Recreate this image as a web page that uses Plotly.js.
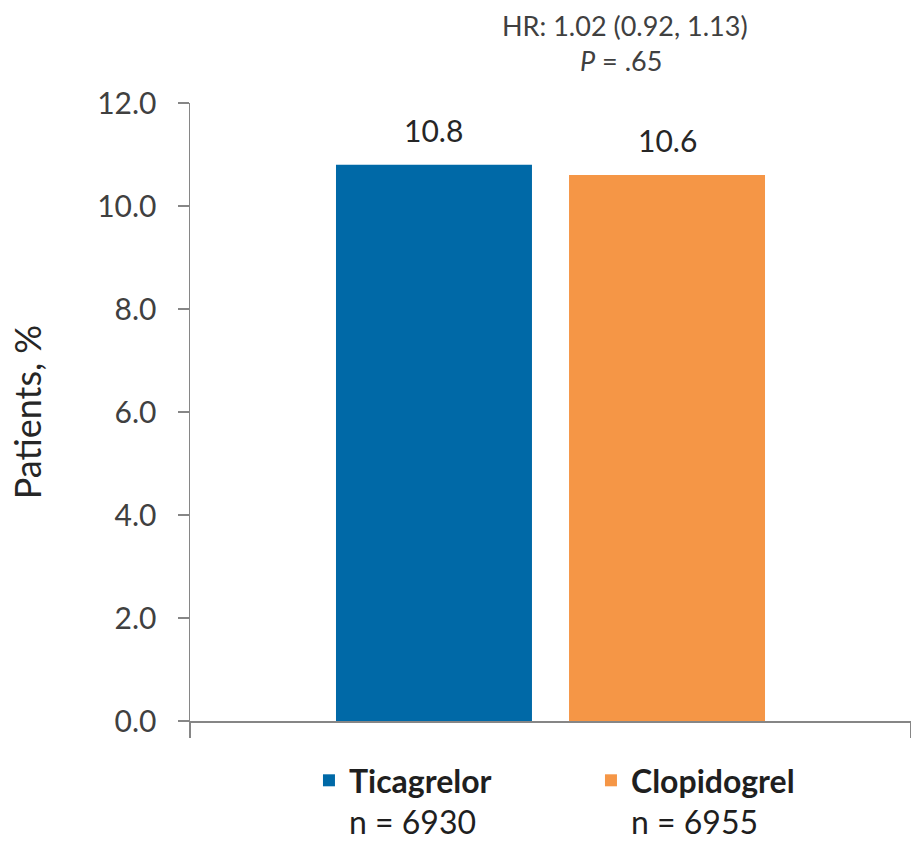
<!DOCTYPE html>
<html>
<head>
<meta charset="utf-8">
<script src="https://cdn.plot.ly/plotly-3.0.1.min.js"></script>
<style>html,body{margin:0;padding:0;background:#fff;}#chart{width:911px;height:842px;}</style>
</head>
<body>
<div id="chart"></div>
<script>
// ---- data ----
var categories = ["Ticagrelor", "Clopidogrel"];
var seriesNames = ["<b>Ticagrelor</b><br>n = 6930", "<b>Clopidogrel</b><br>n = 6955"];
var patientsPct = [10.8, 10.6];
var barColors = ["#0069A7", "#F59646"];
var yTickVals = [0, 2, 4, 6, 8, 10, 12];
var hrText = "HR: 1.02 (0.92, 1.13)";
var pText = "<i>P</i> = .65";
var yTitle = "Patients, %";

var FONT = "Lato, 'Open Sans', 'DejaVu Sans', sans-serif";
var AXIS_COLOR = "#868686";

var traces = categories.map(function (c, i) {
  return {
    type: "bar",
    name: seriesNames[i],
    x: [c],
    y: [patientsPct[i]],
    marker: { color: barColors[i], line: { width: 0 } },
    hoverinfo: "y+name"
  };
});

var annotations = categories.map(function (c, i) {
  return {
    xref: "x", yref: "y", x: c, y: patientsPct[i],
    text: patientsPct[i].toFixed(1),
    showarrow: false, yanchor: "bottom", yshift: 15,
    font: { family: FONT, size: 30, color: "#262626" }
  };
});
annotations.push({
  xref: "paper", yref: "paper", x: 0.603, y: 1.126, xanchor: "center", yanchor: "middle",
  text: hrText, showarrow: false, font: { family: FONT, size: 27, color: "#404040" }
});
annotations.push({
  xref: "paper", yref: "paper", x: 0.598, y: 1.068, xanchor: "center", yanchor: "middle",
  text: pText, showarrow: false, font: { family: FONT, size: 27, color: "#404040" }
});

var layout = {
  width: 911, height: 842,
  margin: { l: 190, r: 0, t: 103, b: 121, pad: 0 },
  paper_bgcolor: "#ffffff", plot_bgcolor: "#ffffff",
  font: { family: FONT, color: "#404040" },
  barmode: "overlay",
  bargap: 0.159,
  showlegend: true,
  legend: {
    orientation: "h", x: 0.165, xanchor: "left",
    yref: "container", y: 1 - 753 / 842, yanchor: "top",
    valign: "top", entrywidth: 237, entrywidthmode: "pixels",
    font: { family: FONT, size: 32, color: "#1f1f1f" },
    bgcolor: "rgba(0,0,0,0)", traceorder: "normal"
  },
  xaxis: {
    type: "category", categoryorder: "array", categoryarray: categories,
    range: [-1.047, 2.047], fixedrange: true,
    showline: true, linecolor: AXIS_COLOR, linewidth: 1.5,
    ticks: "outside", ticklen: 15, tickwidth: 1.5, tickcolor: AXIS_COLOR,
    tickmode: "array", tickvals: [-1.047, 2.047], showticklabels: false,
    showgrid: false, zeroline: false
  },
  yaxis: {
    range: [0, 12], tickmode: "array", tickvals: yTickVals,
    tickformat: ".1f",
    showline: true, linecolor: AXIS_COLOR, linewidth: 1.5,
    ticks: "outside", ticklen: 11, tickwidth: 1.5, tickcolor: AXIS_COLOR,
    ticklabelstandoff: 15,
    tickfont: { family: FONT, size: 30, color: "#404040" },
    showgrid: false, zeroline: false,
    title: { text: yTitle, standoff: 44, font: { family: FONT, size: 36, color: "#262626" } }
  },
  annotations: annotations
};

Plotly.newPlot("chart", traces, layout, { displayModeBar: false, staticPlot: true });
</script>
</body>
</html>
